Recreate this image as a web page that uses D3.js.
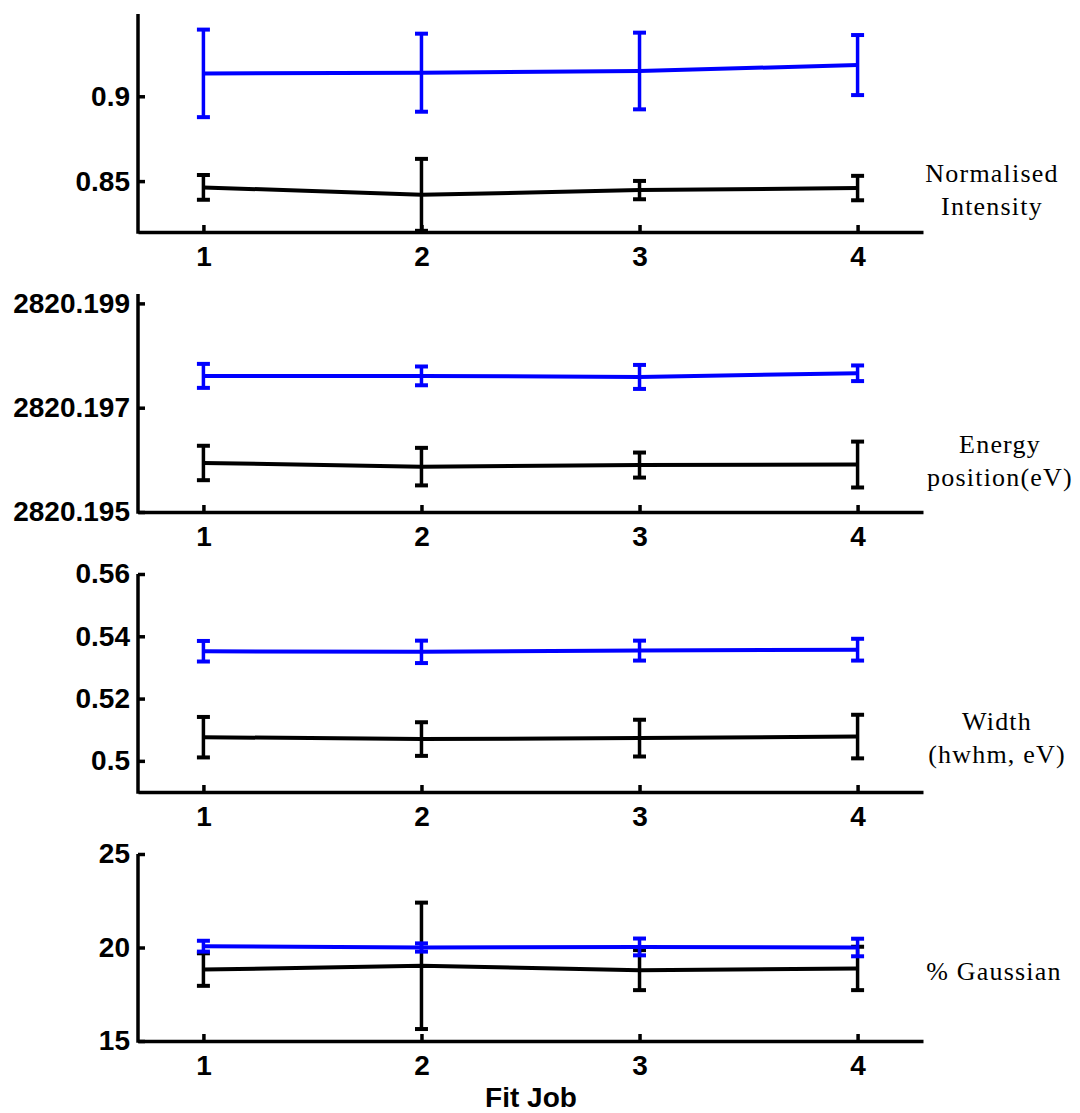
<!DOCTYPE html>
<html>
<head>
<meta charset="utf-8">
<script src="https://cdn.jsdelivr.net/npm/d3@7"></script>
<style>
  body { margin: 0; background: #fff; }
  .tick text { font-family: "Liberation Sans", Arial, sans-serif; font-weight: bold; font-size: 28px; fill: #000; }
  .side-label { font-family: "Liberation Serif", "DejaVu Serif", serif; font-size: 26px; letter-spacing: 1.2px; fill: #000; }
</style>
</head>
<body>
<div id="chart-area"></div>
<script>
var jobs = [1, 2, 3, 4];

var intensityBlue = [0.9135, 0.9139, 0.9149, 0.9184];
var intensityBlueErr = [0.0258, 0.0230, 0.0226, 0.0177];
var intensityBlack = [0.8463, 0.8419, 0.8447, 0.8459];
var intensityBlackErr = [0.0073, 0.0212, 0.0054, 0.0072];

var energyBlue = [2820.19761, 2820.19761, 2820.19759, 2820.19766];
var energyBlueErr = [0.00023, 0.00018, 0.00023, 0.00015];
var energyBlack = [2820.19594, 2820.19587, 2820.19590, 2820.19591];
var energyBlackErr = [0.00033, 0.00036, 0.00024, 0.00044];

var widthBlue = [0.5352, 0.5350, 0.5354, 0.5357];
var widthBlueErr = [0.0033, 0.0036, 0.0032, 0.0035];
var widthBlack = [0.5076, 0.5070, 0.5073, 0.5078];
var widthBlackErr = [0.0065, 0.0054, 0.0059, 0.0070];

var gaussBlue = [20.07, 20.00, 20.03, 20.00];
var gaussBlueErr = [0.29, 0.22, 0.45, 0.47];
var gaussBlack = [18.82, 19.02, 18.79, 18.88];
var gaussBlackErr = [0.87, 3.38, 1.07, 1.16];

var intensityTicks = [0.85, 0.9];
var energyTicks = [2820.195, 2820.197, 2820.199];
var widthTicks = [0.5, 0.52, 0.54, 0.56];
var gaussTicks = [15, 20, 25];

var intensityDomain = [0.82, 0.9485];
var energyDomain = [2820.195, 2820.19918];
var widthDomain = [0.49, 0.56];
var gaussDomain = [15, 25];

var intensityLabel = ['Normalised', 'Intensity'];
var energyLabel = ['Energy', 'position(eV)'];
var widthLabel = ['Width', '(hwhm, eV)'];
var gaussLabel = ['% Gaussian'];

var xLabel = 'Fit Job';

var svg = d3.select('#chart-area')
  .append('svg')
  .attr('width', 1080)
  .attr('height', 1113);

// X Scale (shared)
var x = d3.scaleLinear()
  .domain([0.7, 4.3])
  .range([138, 923]);

var panels = [
  { top: 14, bottom: 232, domain: intensityDomain, ticks: intensityTicks, fmt: d3.format('~g'),
    blue: intensityBlue, blueErr: intensityBlueErr, black: intensityBlack, blackErr: intensityBlackErr,
    label: intensityLabel, labelX: 992, labelY: 182 },
  { top: 294, bottom: 512, domain: energyDomain, ticks: energyTicks, fmt: d3.format('.3f'),
    blue: energyBlue, blueErr: energyBlueErr, black: energyBlack, blackErr: energyBlackErr,
    label: energyLabel, labelX: 1000, labelY: 453 },
  { top: 574, bottom: 792, domain: widthDomain, ticks: widthTicks, fmt: d3.format('~g'),
    blue: widthBlue, blueErr: widthBlueErr, black: widthBlack, blackErr: widthBlackErr,
    label: widthLabel, labelX: 997, labelY: 730 },
  { top: 854, bottom: 1041, domain: gaussDomain, ticks: gaussTicks, fmt: d3.format('d'),
    blue: gaussBlue, blueErr: gaussBlueErr, black: gaussBlack, blackErr: gaussBlackErr,
    label: gaussLabel, labelX: 994, labelY: 980 }
];

panels.forEach(function(p) {
  var g = svg.append('g');

  var y = d3.scaleLinear()
    .domain(p.domain)
    .range([p.bottom, p.top]);

  // Y Axis
  var yAxisCall = d3.axisLeft(y)
    .tickValues(p.ticks)
    .tickFormat(p.fmt)
    .tickSizeInner(-7)
    .tickSizeOuter(0)
    .tickPadding(8);
  var yAxis = g.append('g')
    .attr('transform', 'translate(' + x.range()[0] + ', 0)')
    .call(yAxisCall);

  // X Axis
  var xAxisCall = d3.axisBottom(x)
    .tickValues(jobs)
    .tickFormat(d3.format('d'))
    .tickSizeInner(-7)
    .tickSizeOuter(0)
    .tickPadding(14);
  var xAxis = g.append('g')
    .attr('transform', 'translate(0, ' + p.bottom + ')')
    .call(xAxisCall);

  [yAxis, xAxis].forEach(function(a) {
    a.select('.domain').attr('stroke', '#000').attr('stroke-width', 3.5);
    a.selectAll('.tick line').attr('stroke', '#000').attr('stroke-width', 3.5);
  });
  yAxis.select('.domain').attr('d', 'M0,' + (p.bottom + 1.75) + 'V' + p.top);

  var series = [
    { vals: p.black, errs: p.blackErr, color: '#000000' },
    { vals: p.blue, errs: p.blueErr, color: '#0000ff' }
  ];

  series.forEach(function(s) {
    var pts = jobs.map(function(j, i) {
      return { job: j, v: s.vals[i], e: s.errs[i] };
    });

    var line = d3.line()
      .x(function(d) { return x(d.job); })
      .y(function(d) { return y(d.v); });

    g.append('path')
      .datum(pts)
      .attr('d', line)
      .attr('fill', 'none')
      .attr('stroke', s.color)
      .attr('stroke-width', 4)
      .attr('stroke-linejoin', 'round');

    var bars = g.selectAll(null)
      .data(pts)
      .enter()
      .append('g')
        .attr('stroke', s.color)
        .attr('stroke-width', 3.5);

    bars.append('line')
      .attr('x1', function(d) { return x(d.job); })
      .attr('x2', function(d) { return x(d.job); })
      .attr('y1', function(d) { return y(d.v - d.e); })
      .attr('y2', function(d) { return y(d.v + d.e); });

    [-1, 1].forEach(function(sign) {
      bars.append('line')
        .attr('x1', function(d) { return x(d.job) - 6.5; })
        .attr('x2', function(d) { return x(d.job) + 6.5; })
        .attr('y1', function(d) { return y(d.v + sign * d.e); })
        .attr('y2', function(d) { return y(d.v + sign * d.e); })
        .attr('stroke-width', 4);
    });
  });

  // Side label
  var lbl = g.append('text')
    .attr('class', 'side-label')
    .attr('text-anchor', 'middle')
    .attr('x', p.labelX)
    .attr('y', p.labelY);
  p.label.forEach(function(t, i) {
    lbl.append('tspan')
      .attr('x', p.labelX)
      .attr('dy', i === 0 ? 0 : 33)
      .text(t);
  });
});

// X Label
svg.append('text')
  .attr('x', 531)
  .attr('y', 1107)
  .attr('text-anchor', 'middle')
  .attr('font-family', '"Liberation Sans", Arial, sans-serif')
  .attr('font-weight', 'bold')
  .attr('font-size', '28px')
  .text(xLabel);
</script>
</body>
</html>
